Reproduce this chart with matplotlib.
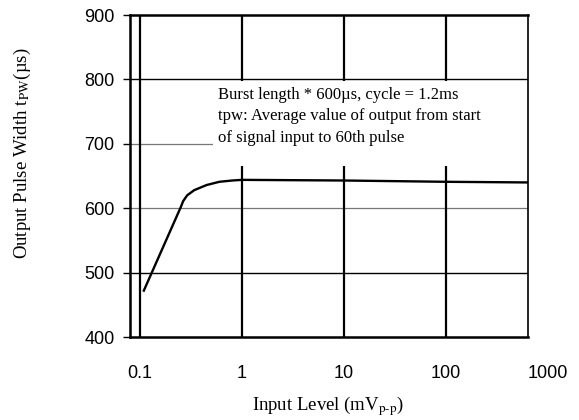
import numpy as np
import matplotlib
matplotlib.use("Agg")
import matplotlib.pyplot as plt
from matplotlib.patches import Rectangle

plt.rcParams['mathtext.fontset'] = 'stix'

# curve
input_mv = [0.109, 0.25, 0.265, 0.29, 0.34, 0.45, 0.6, 0.8, 1.0, 10, 100, 630]
pulse_us = [472, 601, 611, 620, 628, 636, 641, 643, 644, 643, 641, 640]

x_tick_vals = [0.1, 1, 10, 100, 1000]
x_tick_labels = ['0.1', '1', '10', '100', '1000']
y_tick_vals = [400, 500, 600, 700, 800, 900]

# grid styles per horizontal line
h_lines = [500, 600, 700, 800]
h_colors = ['black', '#777777', '#777777', 'black']
h_widths = [1.0, 0.9, 0.9, 1.0]
v_lines = [0.1, 1, 10, 100]

note = ("Burst length * 600\u00b5s, cycle = 1.2ms\n"
        "tpw: Average value of output from start\n"
        "of signal input to 60th pulse")

fig = plt.figure(figsize=(5.79, 4.2), dpi=100)
ax = fig.add_axes([130/579, 1-337/420, 398/579, 322/420])

ax.set_xscale('log')
ax.set_xlim(0.0798, 636)
ax.set_ylim(400, 900)

for y, c, w in zip(h_lines, h_colors, h_widths):
    ax.axhline(y, color=c, lw=w, zorder=1)
for x in v_lines:
    ax.axvline(x, color='black', lw=1.6, zorder=1)

# white area behind the note
ax.add_patch(Rectangle((0.2085, 0.531), 0.8, 0.265, transform=ax.transAxes,
                       facecolor='white', edgecolor='none', zorder=2))

ax.plot(input_mv, pulse_us, color='black', lw=1.7, zorder=3)

ax.text(0.221, 0.775, note, transform=ax.transAxes, ha='left', va='top',
        family='Liberation Serif', fontsize=12, linespacing=1.42, zorder=4)

ax.set_yticks(y_tick_vals)
ax.set_yticklabels([str(v) for v in y_tick_vals], family='Liberation Sans', fontsize=13)
ax.tick_params(axis='y', length=5, width=1, pad=6)

ax.set_xticks(x_tick_vals[:-1])
ax.set_xticklabels(x_tick_labels[:-1], family='Liberation Sans', fontsize=13)
ax.xaxis.set_minor_locator(matplotlib.ticker.NullLocator())
ax.tick_params(axis='x', length=0, pad=20)
ax.text(x_tick_vals[-1], -0.087, x_tick_labels[-1], transform=ax.get_xaxis_transform(),
        ha='center', va='top', family='Liberation Sans', fontsize=13, clip_on=False)

for s in ax.spines.values():
    s.set_linewidth(1.8)
    s.set_color('black')
ax.spines['right'].set_linewidth(1.2)

fig.text(328/579, 1-410/420, 'Input Level (mV$_{\\mathrm{p\\text{-}p}}$)',
         ha='center', va='baseline', family='Liberation Serif', fontsize=13.5)
fig.text(22/579, 1-153/420, 'Output Pulse Width t$_{\\mathrm{PW}}$(\u00b5s)',
         rotation=90, ha='center', va='center', family='Liberation Serif', fontsize=13.5)

fig.savefig('out.png', dpi=100)
